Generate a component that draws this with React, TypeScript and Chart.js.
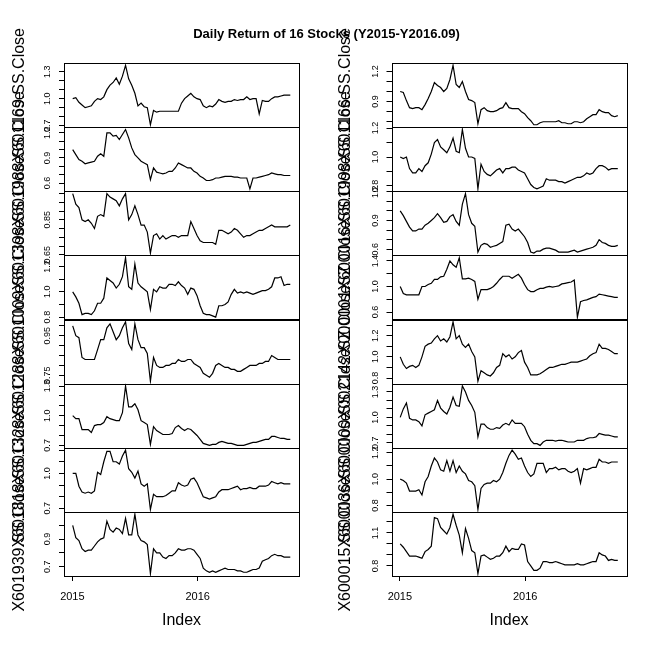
import React, { useEffect, useRef } from "react";
import { Chart, registerables } from "chart.js";

Chart.register(...registerables);

const TITLE = "Daily Return of 16 Stocks (Y2015-Y2016.09)";
const X_TITLE = "Index";
const X_TICKS = [2015, 2016];
const DATE_START = 2015.0027; // 2015-01-02
const DATE_END = 2016.739; // 2016-09-27

const NAMES_LEFT = [
  "X601169.SS.Close",
  "X601988.SS.Close",
  "X601398.SS.Close",
  "X601009.SS.Close",
  "X601288.SS.Close",
  "X601328.SS.Close",
  "X601818.SS.Close",
  "X601939.SS.Close",
];
const NAMES_RIGHT = [
  "X601166.SS.Close",
  "X601998.SS.Close",
  "X600016.SS.Close",
  "X000001.SZ.Close",
  "X002142.SZ.Close",
  "X600000.SS.Close",
  "X600036.SS.Close",
  "X600015.SS.Close",
];

// normalised closing prices, roughly every 9 days
const L1 = [1.00,1.01,0.96,0.93,0.90,0.91,0.92,0.97,1.00,0.99, 1.02,1.10,1.15,1.18,1.23,1.16,1.25,1.37,1.22,1.15, 1.06,0.92,0.95,0.91,0.90,0.71,0.87,0.85,0.86,0.86, 0.86,0.86,0.86,0.86,0.86,0.95,1.00,1.03,1.06,1.02, 1.00,0.99,0.92,0.90,0.92,0.91,0.94,0.99,0.97,0.96, 0.97,0.97,0.99,0.98,0.99,0.99,1.02,0.99,1.00,1.00, 0.83,0.98,0.97,0.97,1.00,1.02,1.02,1.03,1.04,1.04, 1.04];
const L2 = [1.00,0.94,0.88,0.86,0.83,0.84,0.85,0.86,0.92,0.95, 0.92,1.20,1.20,1.16,1.17,1.12,1.18,1.24,1.14,1.02, 0.94,0.90,0.86,0.84,0.82,0.64,0.78,0.73,0.72,0.71, 0.72,0.74,0.74,0.78,0.84,0.82,0.80,0.78,0.78,0.74, 0.72,0.68,0.66,0.63,0.63,0.64,0.66,0.66,0.67,0.68, 0.68,0.68,0.67,0.67,0.66,0.66,0.66,0.53,0.66,0.66, 0.67,0.68,0.69,0.70,0.72,0.71,0.70,0.70,0.69,0.69, 0.69];
const L3 = [1.00,0.94,0.92,0.85,0.84,0.85,0.83,0.80,0.87,0.88, 0.87,1.00,0.98,0.97,0.96,0.93,0.97,1.00,0.85,0.88, 0.93,0.88,0.82,0.82,0.78,0.66,0.76,0.77,0.74,0.76, 0.74,0.75,0.76,0.76,0.75,0.76,0.76,0.76,0.84,0.80, 0.76,0.73,0.72,0.72,0.72,0.72,0.71,0.79,0.79,0.78, 0.77,0.78,0.80,0.79,0.77,0.75,0.76,0.76,0.77,0.78, 0.79,0.79,0.80,0.81,0.82,0.81,0.81,0.81,0.81,0.81, 0.82];
const L4 = [1.00,0.96,0.91,0.82,0.83,0.83,0.82,0.85,0.91,0.91, 0.95,1.11,1.09,1.07,1.03,1.06,1.12,1.27,1.04,1.02, 1.22,1.07,1.04,1.02,1.00,0.86,1.02,1.00,1.04,1.03, 1.03,1.06,1.06,1.05,1.08,1.05,1.03,0.98,1.03,1.02, 0.97,0.89,0.83,0.82,0.82,0.81,0.80,0.89,0.89,0.90, 0.92,0.98,1.02,0.99,1.00,0.99,1.00,0.99,0.98,0.99, 1.00,1.01,1.01,1.02,1.04,1.11,1.11,1.12,1.05,1.06, 1.06];
const L5 = [1.00,0.95,0.94,0.84,0.83,0.83,0.83,0.83,0.88,0.93, 0.93,0.99,1.01,0.97,0.93,0.95,0.99,1.02,0.91,0.88, 1.01,0.93,0.89,0.89,0.86,0.72,0.84,0.80,0.79,0.79, 0.80,0.80,0.81,0.81,0.83,0.82,0.82,0.83,0.83,0.81, 0.80,0.79,0.76,0.75,0.74,0.76,0.80,0.81,0.80,0.79, 0.79,0.78,0.78,0.77,0.77,0.78,0.79,0.80,0.80,0.80, 0.81,0.81,0.82,0.82,0.85,0.84,0.83,0.83,0.83,0.83, 0.83];
const L6 = [1.00,0.97,0.97,0.86,0.86,0.86,0.83,0.90,0.91,0.91, 0.93,0.99,0.97,0.96,0.95,0.95,1.03,1.30,1.09,1.09, 1.12,1.06,0.95,0.93,0.91,0.71,0.89,0.85,0.83,0.81, 0.81,0.81,0.82,0.88,0.90,0.87,0.85,0.87,0.86,0.83, 0.80,0.76,0.72,0.71,0.70,0.71,0.71,0.73,0.74,0.73, 0.72,0.72,0.71,0.70,0.70,0.70,0.71,0.72,0.73,0.73, 0.74,0.75,0.76,0.76,0.79,0.79,0.78,0.77,0.77,0.76, 0.76];
const L7 = [1.00,1.00,0.89,0.84,0.83,0.84,0.83,0.85,1.01,0.99, 1.10,1.19,1.19,1.10,1.10,1.08,1.15,1.20,1.04,1.01, 0.96,1.02,0.91,0.89,0.91,0.69,0.82,0.80,0.80,0.80, 0.81,0.83,0.85,0.85,0.92,0.90,0.89,0.90,0.95,0.96, 0.92,0.86,0.80,0.79,0.78,0.79,0.80,0.84,0.86,0.86, 0.86,0.87,0.88,0.89,0.86,0.87,0.87,0.88,0.87,0.87, 0.89,0.89,0.89,0.90,0.93,0.92,0.91,0.92,0.91,0.91, 0.91];
const L8 = [1.00,0.91,0.89,0.83,0.81,0.82,0.82,0.85,0.88,0.90, 0.91,1.03,0.97,0.95,0.98,0.97,0.94,1.05,0.93,0.93, 1.08,0.93,0.89,0.88,0.86,0.65,0.83,0.80,0.80,0.77, 0.76,0.78,0.78,0.80,0.83,0.82,0.82,0.83,0.83,0.82, 0.79,0.76,0.69,0.67,0.66,0.67,0.66,0.67,0.68,0.69, 0.68,0.68,0.68,0.67,0.67,0.66,0.66,0.67,0.68,0.68, 0.69,0.74,0.75,0.76,0.78,0.79,0.78,0.78,0.77,0.77, 0.77];
const R1 = [1.00,0.99,0.91,0.84,0.83,0.84,0.84,0.82,0.87,0.93, 1.00,1.09,1.06,1.04,1.00,1.03,1.12,1.26,1.07,1.04, 1.10,1.00,0.92,0.91,0.89,0.68,0.82,0.84,0.81,0.80, 0.80,0.81,0.83,0.84,0.89,0.84,0.83,0.83,0.83,0.80, 0.78,0.74,0.71,0.67,0.67,0.69,0.70,0.70,0.70,0.70, 0.70,0.71,0.69,0.69,0.68,0.68,0.70,0.70,0.69,0.70, 0.73,0.75,0.77,0.77,0.82,0.80,0.79,0.79,0.76,0.75, 0.76];
const R2 = [1.00,0.99,1.00,0.92,0.89,0.89,0.92,0.90,0.94,0.96, 1.02,1.10,1.12,1.07,1.05,1.03,1.07,1.13,1.04,1.03, 1.19,1.06,1.00,1.00,0.99,0.78,0.95,0.90,0.88,0.87, 0.89,0.91,0.92,0.89,0.92,0.92,0.93,0.93,0.91,0.90, 0.89,0.85,0.81,0.79,0.78,0.79,0.80,0.85,0.84,0.84, 0.84,0.83,0.83,0.82,0.83,0.84,0.85,0.86,0.86,0.87, 0.89,0.88,0.89,0.92,0.94,0.94,0.93,0.91,0.92,0.92, 0.92];
const R3 = [1.00,0.95,0.89,0.83,0.79,0.79,0.81,0.81,0.85,0.87, 0.90,0.93,0.97,0.93,0.88,0.89,0.94,0.96,0.89,0.85, 1.07,1.18,0.96,0.87,0.84,0.57,0.64,0.66,0.65,0.62, 0.63,0.64,0.66,0.68,0.85,0.86,0.81,0.79,0.81,0.77, 0.73,0.67,0.57,0.56,0.58,0.58,0.60,0.61,0.61,0.60, 0.59,0.57,0.57,0.57,0.57,0.58,0.59,0.57,0.58,0.59, 0.60,0.61,0.62,0.64,0.70,0.67,0.66,0.64,0.63,0.63, 0.64];
const R4 = [1.00,0.89,0.87,0.87,0.87,0.87,0.87,1.00,1.00,1.03, 1.05,1.11,1.11,1.15,1.16,1.27,1.40,1.34,1.30,1.45, 1.12,1.12,1.13,1.11,1.08,0.80,0.95,0.95,0.95,0.97, 1.00,1.05,1.11,1.16,1.16,1.16,1.13,1.16,1.19,1.13, 1.03,0.95,0.92,0.92,0.95,0.97,0.97,0.99,1.00,0.99, 1.00,1.01,1.04,1.05,1.06,1.07,1.10,0.52,0.76,0.78, 0.79,0.81,0.83,0.84,0.88,0.87,0.86,0.85,0.84,0.83, 0.83];
const R5 = [1.00,0.93,0.89,0.91,0.92,0.90,0.92,1.00,1.10,1.12, 1.13,1.17,1.20,1.15,1.17,1.14,1.19,1.33,1.17,1.20, 1.12,1.09,1.12,1.05,1.00,0.77,0.87,0.85,0.83,0.82, 0.85,0.90,0.92,1.03,1.00,1.02,0.98,1.00,1.04,1.06, 0.95,0.90,0.83,0.83,0.83,0.84,0.86,0.88,0.90,0.90, 0.91,0.92,0.93,0.93,0.94,0.95,0.95,0.95,0.96,0.97, 0.98,1.01,1.03,1.04,1.12,1.08,1.08,1.07,1.05,1.03, 1.03];
const R6 = [1.00,1.10,1.17,0.99,0.97,0.97,0.95,0.90,1.03,1.05, 1.07,1.09,1.20,1.11,1.07,1.04,1.12,1.24,1.14,1.13, 1.37,1.30,1.20,1.14,1.06,0.77,0.92,0.92,0.88,0.86, 0.86,0.88,0.87,0.91,0.93,0.91,0.97,0.93,0.93,0.93, 0.89,0.80,0.73,0.69,0.69,0.67,0.71,0.73,0.73,0.73, 0.72,0.73,0.73,0.72,0.71,0.71,0.71,0.73,0.73,0.73, 0.75,0.76,0.76,0.77,0.81,0.80,0.79,0.79,0.78,0.77, 0.77];
const R7 = [1.00,0.99,0.97,0.91,0.91,0.91,0.92,0.88,0.98,1.02, 1.10,1.16,1.13,1.07,1.06,1.14,1.06,1.14,1.05,1.10, 1.06,1.04,0.99,0.98,0.95,0.77,0.93,0.96,0.97,0.97, 0.99,0.98,1.00,1.05,1.12,1.18,1.22,1.19,1.15,1.16, 1.10,1.05,1.02,1.04,1.12,1.12,1.12,1.05,1.08,1.08, 1.09,1.07,1.08,1.08,1.06,1.05,1.06,1.08,0.97,1.08, 1.07,1.08,1.09,1.09,1.15,1.13,1.13,1.12,1.13,1.13, 1.13];
const R8 = [1.00,0.97,0.93,0.89,0.89,0.89,0.88,0.87,0.93,0.95, 0.98,1.24,1.23,1.15,1.12,1.09,1.15,1.27,1.17,1.08, 0.92,1.14,1.05,0.94,0.92,0.73,0.89,0.90,0.88,0.86, 0.87,0.89,0.89,0.92,0.98,0.93,0.96,0.95,0.95,1.00, 0.99,0.84,0.80,0.76,0.76,0.78,0.84,0.84,0.83,0.83, 0.84,0.83,0.82,0.81,0.81,0.81,0.81,0.82,0.81,0.81, 0.82,0.83,0.84,0.84,0.92,0.90,0.89,0.85,0.86,0.85, 0.85];

const SERIES_LEFT = [L1, L2, L3, L4, L5, L6, L7, L8];
const SERIES_RIGHT = [R1, R2, R3, R4, R5, R6, R7, R8];

// y tick step and labelled ticks per panel
const STEPS_LEFT = [0.1, 0.1, 0.05, 0.1, 0.05, 0.1, 0.1, 0.1];
const STEPS_RIGHT = [0.1, 0.1, 0.1, 0.2, 0.1, 0.1, 0.1, 0.1];
const LABELS_LEFT = [
  [0.7, 1.0, 1.3],
  [0.6, 0.9, 1.2],
  [0.65, 0.85],
  [0.8, 1.0, 1.2],
  [0.75, 0.95],
  [0.7, 1.0, 1.3],
  [0.7, 1.0],
  [0.7, 0.9, 1.1],
];
const LABELS_RIGHT = [
  [0.6, 0.9, 1.2],
  [0.8, 1.0, 1.2],
  [0.6, 0.9, 1.2],
  [0.6, 1.0, 1.4],
  [0.8, 1.0, 1.2],
  [0.7, 1.0, 1.3],
  [0.8, 1.0, 1.2],
  [0.8, 1.1],
];

const FONT = '"Liberation Sans", Arial, Helvetica, sans-serif';
const W = 653;
const COL_LEFT = [64, 391.5];
const PLOT_W = 235;
const PLOT_TOP = 63;
const PLOT_BOTTOM = 576;
const PANEL_H = (PLOT_BOTTOM - PLOT_TOP) / 8;
const YLAB_X = [19, 345];
const X_AXIS_H = 40;

type PanelProps = { values: number[]; col: number; row: number; step: number; labeled: number[] };

function Panel({ values, col, row, step, labeled }: PanelProps) {
  const ref = useRef<HTMLCanvasElement | null>(null);
  useEffect(() => {
    const canvas = ref.current;
    if (!canvas) return;
    const left = COL_LEFT[col];
    const right = left + PLOT_W;
    const top = PLOT_TOP + row * PANEL_H;
    const bottom = top + PANEL_H;
    const isBottom = row === 7;
    const n = values.length;
    const span = DATE_END - DATE_START;
    const pts = values.map((v, i) => ({ x: DATE_START + (i * span) / (n - 1), y: v }));
    const ymin = Math.min(...values);
    const ymax = Math.max(...values);
    const yr = ymax - ymin;
    const decimals = step < 0.099 ? 2 : 1;
    const framePlugin = {
      id: "frame",
      afterDraw(chart: any) {
        const { ctx, chartArea: ca } = chart;
        const ys = chart.scales.y;
        ctx.save();
        ctx.strokeStyle = "#000";
        ctx.lineWidth = 1;
        ctx.strokeRect(
          Math.round(ca.left) + 0.5,
          Math.round(ca.top) + 0.5,
          Math.round(ca.right - ca.left),
          Math.round(ca.bottom - ca.top)
        );
        ctx.fillStyle = "#000";
        ctx.font = `9px ${FONT}`;
        ctx.textAlign = "center";
        ctx.textBaseline = "middle";
        for (const t of ys.ticks) {
          if (!labeled.some((v) => Math.abs(v - t.value) < 1e-6)) continue;
          const y = ys.getPixelForValue(t.value);
          ctx.save();
          ctx.translate(ca.left - 16, y);
          ctx.rotate(-Math.PI / 2);
          ctx.fillText(t.value.toFixed(decimals), 0, 0);
          ctx.restore();
        }
        ctx.restore();
      },
    };
    const chart = new Chart(canvas, {
      type: "line",
      data: {
        datasets: [
          {
            data: pts,
            borderColor: "#000",
            borderWidth: 1.2,
            pointRadius: 0,
            tension: 0,
            fill: false,
          },
        ],
      },
      options: {
        responsive: false,
        animation: false,
        devicePixelRatio: 1,
        events: [],
        layout: {
          padding: {
            left,
            top,
            right: W - right,
            bottom: isBottom ? W - bottom - X_AXIS_H : W - bottom,
          },
        },
        plugins: { legend: { display: false }, tooltip: { enabled: false }, title: { display: false } },
        scales: {
          x: {
            type: "linear",
            display: isBottom,
            min: DATE_START - 0.04 * span,
            max: DATE_END + 0.04 * span,
            afterFit: (s: any) => {
              s.height = isBottom ? X_AXIS_H : 0;
            },
            afterBuildTicks: (s: any) => {
              s.ticks = X_TICKS.map((v) => ({ value: v }));
            },
            grid: { drawOnChartArea: false, drawTicks: true, tickLength: 5, color: "#000", lineWidth: 1 },
            border: { display: false },
            ticks: {
              color: "#000",
              font: { family: FONT, size: 11 },
              padding: 9,
              maxRotation: 0,
              autoSkip: false,
              callback: (v: any) => String(v),
            },
          },
          y: {
            type: "linear",
            min: ymin - 0.04 * yr,
            max: ymax + 0.04 * yr,
            afterFit: (s: any) => {
              s.width = 0;
            },
            afterBuildTicks: (s: any) => {
              const lo = Math.ceil(s.min / step - 1e-9);
              const hi = Math.floor(s.max / step + 1e-9);
              const ticks: { value: number }[] = [];
              for (let k = lo; k <= hi; k++) ticks.push({ value: +(k * step).toFixed(4) });
              s.ticks = ticks;
            },
            grid: { drawOnChartArea: false, drawTicks: true, tickLength: 5, color: "#000", lineWidth: 1 },
            border: { display: false },
            ticks: { display: false },
          },
        },
      },
      plugins: [framePlugin],
    } as any);
    return () => chart.destroy();
  }, [values, col, row, step, labeled]);
  return (
    <canvas
      ref={ref}
      width={W}
      height={W}
      style={{ position: "absolute", left: 0, top: 0, width: W, height: W }}
    />
  );
}

export default function App() {
  useEffect(() => {
    document.body.style.margin = "0";
    document.body.style.background = "#fff";
  }, []);
  const panels: React.ReactNode[] = [];
  const labels: React.ReactNode[] = [];
  [SERIES_LEFT, SERIES_RIGHT].forEach((series, col) => {
    const steps = col === 0 ? STEPS_LEFT : STEPS_RIGHT;
    const labs = col === 0 ? LABELS_LEFT : LABELS_RIGHT;
    const names = col === 0 ? NAMES_LEFT : NAMES_RIGHT;
    series.forEach((vals, row) => {
      panels.push(
        <Panel key={`p${col}${row}`} values={vals} col={col} row={row} step={steps[row]} labeled={labs[row]} />
      );
      labels.push(
        <div
          key={`l${col}${row}`}
          style={{
            position: "absolute",
            left: YLAB_X[col],
            top: PLOT_TOP + (row + 0.5) * PANEL_H,
            transform: "translate(-50%, -50%) rotate(-90deg)",
            font: `16px ${FONT}`,
            lineHeight: "16px",
            whiteSpace: "nowrap",
            color: "#000",
          }}
        >
          {names[row]}
        </div>
      );
    });
  });
  return (
    <div style={{ position: "relative", width: W, height: W, background: "#fff", overflow: "hidden" }}>
      {panels}
      {labels}
      <div
        style={{
          position: "absolute",
          left: 0,
          width: W,
          top: 27,
          textAlign: "center",
          font: `bold 13px ${FONT}`,
          lineHeight: "14px",
          color: "#000",
        }}
      >
        {TITLE}
      </div>
      {[0, 1].map((col) => (
        <div
          key={`x${col}`}
          style={{
            position: "absolute",
            left: COL_LEFT[col] + PLOT_W / 2,
            top: 620,
            transform: "translate(-50%, -50%)",
            font: `16px ${FONT}`,
            lineHeight: "16px",
            color: "#000",
          }}
        >
          {X_TITLE}
        </div>
      ))}
    </div>
  );
}
